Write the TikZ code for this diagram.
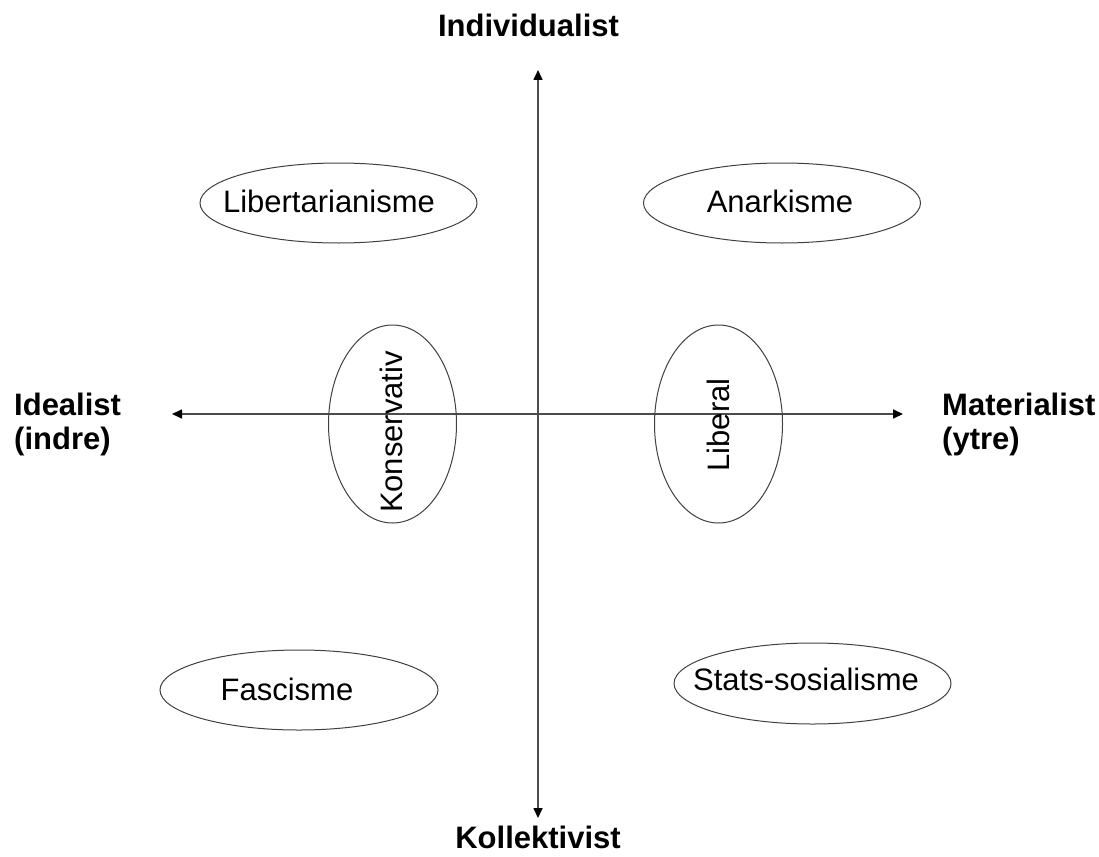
\documentclass[tikz,border=0pt]{standalone}
\usepackage{fontspec}
\setmainfont{Liberation Sans}
\usetikzlibrary{arrows.meta,shapes.geometric}
\begin{document}
\begin{tikzpicture}[x=1pt,y=-1pt,
  oval/.style={draw=black!75,line width=1pt,ellipse,inner sep=0pt},
  lbl/.style={font=\fontsize{31}{36}\selectfont,inner sep=0pt},
  axlbl/.style={font=\fontsize{31}{36}\selectfont\bfseries,inner sep=0pt},
  axis/.style={draw=black!70,line width=1.6pt,{Triangle[length=10pt,width=9pt,color=black]}-{Triangle[length=10pt,width=9pt,color=black]}}]
\useasboundingbox (0,0) rectangle (1099,856);
% axes
\coordinate (top) at (538,70);
\coordinate (bot) at (538,818);
\coordinate (lft) at (172,414);
\coordinate (rgt) at (903,414);
\draw[axis] (top) -- (bot);
\draw[axis] (lft) -- (rgt);
% axis labels
\node[axlbl,anchor=base] (ind) at (528.5,37) {Individualist};
\node[axlbl,anchor=base] (kol) at (538,848) {Kollektivist};
\node[axlbl,anchor=base west] (ide1) at (14,415) {Idealist};
\node[axlbl,anchor=base west] (ide2) at (14,449) {(indre)};
\node[axlbl,anchor=base west] (mat1) at (942,415) {Materialist};
\node[axlbl,anchor=base west] (mat2) at (942,449) {(ytre)};
% ellipses
\node[oval,minimum width=277pt,minimum height=80pt] (elib) at (338.5,203) {};
\node[oval,minimum width=277pt,minimum height=80pt] (eana) at (782,203) {};
\node[oval,minimum width=128pt,minimum height=198pt] (ekon) at (392.5,424) {};
\node[oval,minimum width=128pt,minimum height=198pt] (elbr) at (718.5,424) {};
\node[oval,minimum width=278pt,minimum height=80pt] (efas) at (299,690) {};
\node[oval,minimum width=277pt,minimum height=81pt] (esta) at (812.5,683.5) {};
% texts
\node[lbl,anchor=base] (tlib) at (329,212) {Libertarianisme};
\node[lbl,anchor=base] (tana) at (780,212) {Anarkisme};
\node[lbl,anchor=base] (tfas) at (287,700) {Fascisme};
\node[lbl,anchor=base] (tsta) at (806,690) {Stats-sosialisme};
\node[lbl,rotate=90,anchor=center] (tkon) at (391,432) {Konservativ};
\node[lbl,rotate=90,anchor=center] (tlbr) at (718,425) {Liberal};
\end{tikzpicture}
\end{document}
